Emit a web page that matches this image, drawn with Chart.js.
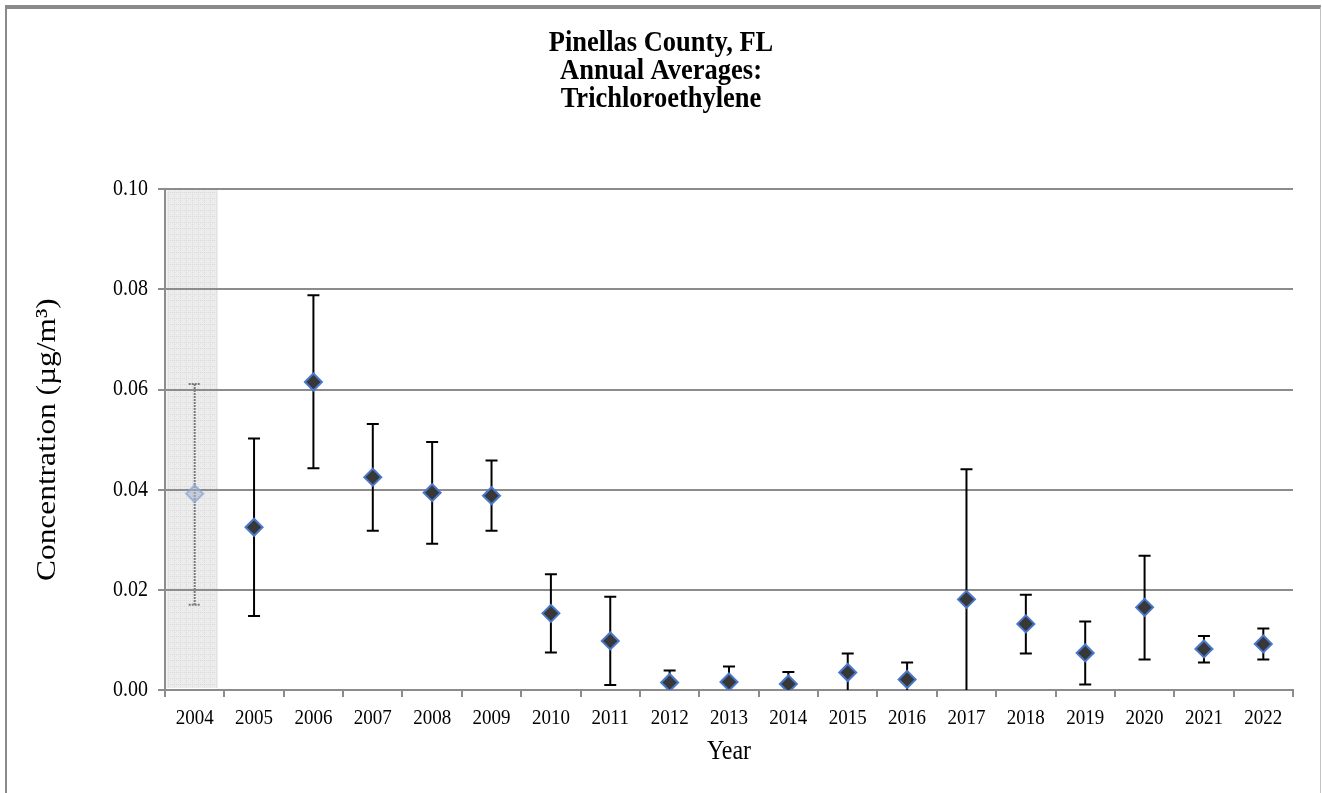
<!DOCTYPE html>
<html>
<head>
<meta charset="utf-8">
<script src="https://cdn.jsdelivr.net/npm/chart.js@4.4.1/dist/chart.umd.min.js"></script>
<style>
  html, body { margin: 0; padding: 0; background: #ffffff; }
  #wrap { position: relative; width: 1322px; height: 793px; overflow: hidden; }
  #frame { position: absolute; left: 5px; top: 5px; width: 1316px; height: 800px;
           border-top: 4px solid #8a8a8a; border-left: 2px solid #8a8a8a; border-right: 1px solid #c4c4c4; box-sizing: border-box; }
  canvas { position: absolute; left: 0; top: 0; }
</style>
</head>
<body>
<div id="wrap">
  <div id="frame"></div>
  <canvas id="c" width="1322" height="793"></canvas>
</div>
<script>
const years = ['2004','2005','2006','2007','2008','2009','2010','2011','2012','2013','2014','2015','2016','2017','2018','2019','2020','2021','2022'];
const means = [0.0392, 0.0325, 0.0615, 0.0425, 0.0394, 0.0388, 0.0153, 0.0098, 0.0015, 0.0016, 0.0012, 0.0035, 0.0021, 0.0181, 0.0132, 0.0074, 0.0165, 0.0082, 0.0092];
const upperCI = [0.0611, 0.0502, 0.0788, 0.0531, 0.0495, 0.0458, 0.0231, 0.0186, 0.0039, 0.0047, 0.0036, 0.0073, 0.0055, 0.0441, 0.0190, 0.0137, 0.0268, 0.0108, 0.0123];
const lowerCI = [0.0170, 0.0148, 0.0443, 0.0318, 0.0292, 0.0318, 0.0075, 0.0010, -0.0009, -0.0015, -0.0012, -0.0003, -0.0013, -0.0079, 0.0073, 0.0011, 0.0061, 0.0055, 0.0061];
const yTicks = [0, 0.02, 0.04, 0.06, 0.08, 0.10];
const shadedYears = ['2004'];

const titleLines = ['Pinellas County, FL', 'Annual Averages:', 'Trichloroethylene'];
const yTitle = 'Concentration (\u00b5g/m\u00b3)';
const xTitle = 'Year';

const SERIF = "'Liberation Serif', 'Times New Roman', serif";
const TEXT_STRETCH = 1.12; // reference text is slightly taller than it is wide

const canvas = document.getElementById('c');
const c2d = canvas.getContext('2d');
const origFillText = c2d.fillText;
c2d.fillText = function (text, x, y, maxWidth) {
  const m = this.getTransform();
  const g = m.transformPoint(new DOMPoint(x, y));
  this.save();
  const s = new DOMMatrix().translate(g.x, g.y).scale(1, TEXT_STRETCH).translate(-g.x, -g.y);
  this.setTransform(s.multiply(m));
  if (maxWidth === undefined) origFillText.call(this, text, x, y);
  else origFillText.call(this, text, x, y, maxWidth);
  this.restore();
};

function makePattern(ctx) {
  const t = document.createElement('canvas');
  t.width = 6; t.height = 6;
  const g = t.getContext('2d');
  g.fillStyle = '#ececec';
  g.fillRect(0, 0, 6, 6);
  g.fillStyle = '#d9d9d9';
  for (let i = 0; i < 6; i += 2) { g.fillRect(i, 0, 1, 1); g.fillRect(0, i, 1, 1); }
  return ctx.createPattern(t, 'repeat');
}

const shadePlugin = {
  id: 'shade',
  beforeDraw(chart) {
    const ctx = chart.ctx, xs = chart.scales.x, ys = chart.scales.y;
    const band = (xs.right - xs.left) / years.length;
    ctx.save();
    ctx.fillStyle = makePattern(ctx);
    shadedYears.forEach(yr => {
      const i = years.indexOf(yr);
      const cx = xs.getPixelForValue(i);
      const x0 = cx - band / 2 + 1.5, x1 = cx + band * 0.39;
      ctx.fillRect(x0, ys.top + 1, x1 - x0, ys.bottom - ys.top - 3);
    });
    ctx.restore();
  }
};

const errPlugin = {
  id: 'errbars',
  beforeDatasetsDraw(chart) {
    const ctx = chart.ctx, xs = chart.scales.x, ys = chart.scales.y, a = chart.chartArea;
    ctx.save();
    ctx.beginPath();
    ctx.rect(a.left, a.top - 10, a.right - a.left, a.bottom - a.top + 10);
    ctx.clip();
    years.forEach((yr, i) => {
      const x = xs.getPixelForValue(i);
      const yu = ys.getPixelForValue(upperCI[i]);
      const yl = ys.getPixelForValue(lowerCI[i]);
      const shaded = shadedYears.includes(yr);
      ctx.strokeStyle = shaded ? '#7a7a7a' : '#000000';
      ctx.lineWidth = 2;
      ctx.setLineDash(shaded ? [2, 1] : []);
      ctx.beginPath();
      ctx.moveTo(x, yu); ctx.lineTo(x, yl);
      ctx.moveTo(x - 6, yu); ctx.lineTo(x + 6, yu);
      ctx.moveTo(x - 6, yl); ctx.lineTo(x + 6, yl);
      ctx.stroke();
    });
    ctx.restore();
  }
};

new Chart(canvas, {
  type: 'line',
  data: {
    labels: years,
    datasets: [{
      data: means,
      showLine: false,
      pointStyle: 'rectRot',
      pointRadius: 8.5,
      pointHoverRadius: 8.5,
      pointBorderWidth: 2,
      pointBackgroundColor: ctx => shadedYears.includes(years[ctx.dataIndex]) ? 'rgba(170,180,200,0.55)' : '#383838',
      pointBorderColor: ctx => shadedYears.includes(years[ctx.dataIndex]) ? 'rgba(140,165,215,0.75)' : '#4a78cc'
    }]
  },
  options: {
    responsive: false,
    animation: false,
    events: [],
    layout: { padding: 0 },
    plugins: {
      legend: { display: false },
      tooltip: { enabled: false },
      title: {
        display: true,
        text: titleLines,
        color: '#000',
        font: { family: SERIF, size: 26.5, weight: 'bold', lineHeight: 1.04 },
        padding: { top: 30, bottom: 76.5 }
      }
    },
    scales: {
      x: {
        type: 'category',
        offset: true,
        grid: { display: true, offset: true, drawOnChartArea: false, drawTicks: true, tickLength: 7, color: '#8c8c8c', lineWidth: 2 },
        border: { display: true, color: '#8c8c8c', width: 2 },
        ticks: { color: '#000', font: { family: SERIF, size: 19 }, padding: 10, maxRotation: 0, autoSkip: false },
        title: { display: true, text: xTitle, color: '#000', font: { family: SERIF, size: 24, lineHeight: 1.2 }, padding: { top: 0, bottom: 27 } },
        afterFit(s) { s.height = 103; }
      },
      y: {
        min: 0, max: 0.1,
        afterBuildTicks(s) { s.ticks = yTicks.map(v => ({ value: v })); },
        grid: { color: '#8c8c8c', lineWidth: 2, drawTicks: true, tickLength: 7 },
        border: { display: true, color: '#8c8c8c', width: 2 },
        ticks: { color: '#000', font: { family: SERIF, size: 20 }, padding: 10, callback: v => Number(v).toFixed(2) },
        title: { display: true, text: yTitle, color: '#000', font: { family: SERIF, size: 28, lineHeight: 1.2 }, padding: { top: 31, bottom: 0 } },
        afterFit(s) { s.width = 165; }
      },
      rightGap: {
        position: 'right',
        display: true,
        min: 0, max: 1,
        grid: { display: false, drawTicks: false },
        border: { display: false },
        ticks: { display: false },
        afterFit(s) { s.width = 29; }
      }
    }
  },
  plugins: [shadePlugin, errPlugin]
});
</script>
</body>
</html>
